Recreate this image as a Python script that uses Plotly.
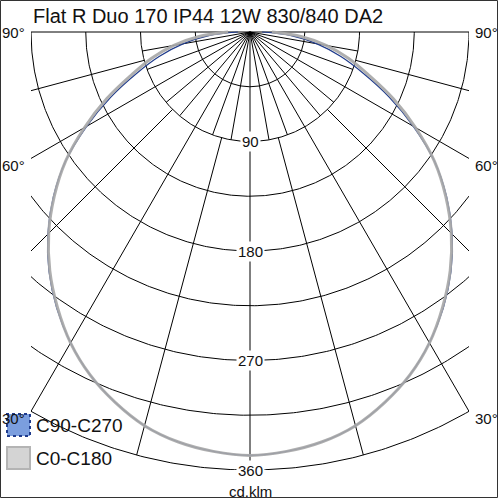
import numpy as np
import plotly.graph_objects as go

# ---------------- data ----------------
title_text = "Flat R Duo 170 IP44 12W 830/840 DA2"
unit_label = "cd.klm"
gamma_deg = [0, 5, 10, 15, 20, 25, 30, 35, 40, 45, 50, 55, 60, 65, 70, 75, 80, 85, 90]
c0_c180 = [348, 346, 342, 335, 324, 311, 295, 276, 256, 234, 210, 185, 157, 130, 104, 84, 64, 42, 18]
c90_c270 = [348, 346, 342, 335, 324, 311, 295, 277, 257, 235, 211, 185, 155, 126, 99, 77, 56, 34, 10]
series_names = ["C90-C270", "C0-C180"]
ring_values = [45, 90, 135, 180, 225, 270, 315, 360]
ring_labels = [90, 180, 270, 360]
angle_labels = [90, 60, 30]
full_spokes = [0, 30, 60, 90]
inner_spokes = [10, 20, 40, 50, 70, 80]
outer_spokes = [15, 45, 75]

# ---------------- geometry ----------------
W = H = 500
L, R, T, B = 31, 31, 30, 30
pw = W - L - R              # 438 px for 360 units
ph = H - T - B
s = pw / 360.0              # px per cd/klm
rmax = 360
xr = [-180, 180]
yr = [rmax, -(32 - T) / s]  # reversed: 0 at top (pixel 32)

def px_to_paper_x(p):
    return (p - L) / pw

def px_to_paper_y(p):
    return (H - B - p) / ph

def polar_xy(r, deg):
    a = np.radians(deg)
    return r * np.sin(a), r * np.cos(a)

fig = go.Figure()

# grid: rings
gx, gy = [], []
th = np.linspace(-90, 90, 361)
for rv in ring_values:
    x, y = polar_xy(rv, th)
    gx += list(x) + [None]
    gy += list(y) + [None]

# spokes
def add_spoke(deg, r0, r1):
    for sgn in ([1, -1] if deg != 0 else [1]):
        x0, y0 = polar_xy(r0, sgn * deg)
        x1, y1 = polar_xy(r1, sgn * deg)
        gx.extend([x0, x1, None])
        gy.extend([y0, y1, None])

for d in full_spokes:
    add_spoke(d, 0, rmax)
for d in inner_spokes:
    add_spoke(d, 0, 90)
for d in outer_spokes:
    add_spoke(d, 90, rmax)

fig.add_trace(go.Scatter(x=gx, y=gy, mode="lines",
                         line=dict(color="#000000", width=1),
                         hoverinfo="skip", showlegend=False))

# curves (mirror both halves)
def curve(vals):
    g = np.array(gamma_deg, dtype=float)
    v = np.array(vals, dtype=float)
    ang = np.concatenate([-g[::-1], g[1:]])
    val = np.concatenate([v[::-1], v[1:]])
    return polar_xy(val, ang)

bx, by = curve(c90_c270)
fig.add_trace(go.Scatter(x=bx, y=by, mode="lines", name=series_names[0],
                         line=dict(color="#1f3b8c", width=1.2, shape="spline"),
                         hoverinfo="skip", showlegend=False))
gxx, gyy = curve(c0_c180)
fig.add_trace(go.Scatter(x=gxx, y=gyy, mode="lines", name=series_names[1],
                         line=dict(color="rgba(168,168,168,0.92)", width=3, shape="spline"),
                         hoverinfo="skip", showlegend=False))

font = "Liberation Sans, Arial, sans-serif"
ann = []
# title
ann.append(dict(text=title_text, xref="paper", yref="paper",
                x=px_to_paper_x(31), y=px_to_paper_y(16), xanchor="left", yanchor="middle",
                showarrow=False, font=dict(family=font, size=20, color="#111111")))
# ring labels
for rv in ring_labels:
    ann.append(dict(text=str(rv), xref="x", yref="y", x=0, y=rv,
                    xanchor="center", yanchor="middle", showarrow=False,
                    bgcolor="#ffffff", borderpad=1,
                    font=dict(family=font, size=15, color="#111111")))
# angle labels
for a in angle_labels:
    rend = min(rmax, 180 / np.sin(np.radians(a)))
    yend = rend * np.cos(np.radians(a))
    ysh = 0 if a == 90 else -7
    ann.append(dict(text=f"{a}°", xref="x", yref="y", x=xr[0], y=yend,
                    xanchor="right", yanchor="middle", xshift=-4, yshift=ysh,
                    showarrow=False, font=dict(family=font, size=15, color="#111111")))
    ann.append(dict(text=f"{a}°", xref="x", yref="y", x=xr[1], y=yend,
                    xanchor="left", yanchor="middle", xshift=4, yshift=ysh,
                    showarrow=False, font=dict(family=font, size=15, color="#111111")))
# unit label
ann.append(dict(text=unit_label, xref="paper", yref="paper",
                x=px_to_paper_x(250), y=px_to_paper_y(491), xanchor="center", yanchor="middle",
                showarrow=False, font=dict(family=font, size=15, color="#111111")))
# legend texts
ann.append(dict(text=series_names[0], xref="paper", yref="paper",
                x=px_to_paper_x(34), y=px_to_paper_y(425), xanchor="left", yanchor="middle",
                showarrow=False, font=dict(family=font, size=19, color="#111111")))
ann.append(dict(text=series_names[1], xref="paper", yref="paper",
                x=px_to_paper_x(34), y=px_to_paper_y(458), xanchor="left", yanchor="middle",
                showarrow=False, font=dict(family=font, size=19, color="#111111")))

shapes = [
    dict(type="rect", xref="paper", yref="paper",
         x0=px_to_paper_x(7), x1=px_to_paper_x(30), y0=px_to_paper_y(436), y1=px_to_paper_y(414),
         fillcolor="#7b9ede", line=dict(color="#1f3b8c", width=2, dash="dot"), layer="above"),
    dict(type="rect", xref="paper", yref="paper",
         x0=px_to_paper_x(7), x1=px_to_paper_x(30), y0=px_to_paper_y(469), y1=px_to_paper_y(447),
         fillcolor="#d4d4d4", line=dict(color="#b4b4b4", width=2), layer="above"),
    dict(type="rect", xref="paper", yref="paper",
         x0=px_to_paper_x(0.5), x1=px_to_paper_x(497.5), y0=px_to_paper_y(497.5), y1=px_to_paper_y(0.5),
         line=dict(color="#333333", width=1), fillcolor="rgba(0,0,0,0)", layer="above"),
]

fig.update_layout(
    width=W, height=H,
    margin=dict(l=L, r=R, t=T, b=B, pad=0),
    paper_bgcolor="#ffffff", plot_bgcolor="#ffffff",
    xaxis=dict(range=xr, visible=False, fixedrange=True),
    yaxis=dict(range=yr, visible=False, fixedrange=True),
    annotations=ann, shapes=shapes, showlegend=False,
)

fig.write_html("out.html", config={"displayModeBar": False},
               post_script="document.body.style.margin='0px';document.body.style.overflow='hidden';")
